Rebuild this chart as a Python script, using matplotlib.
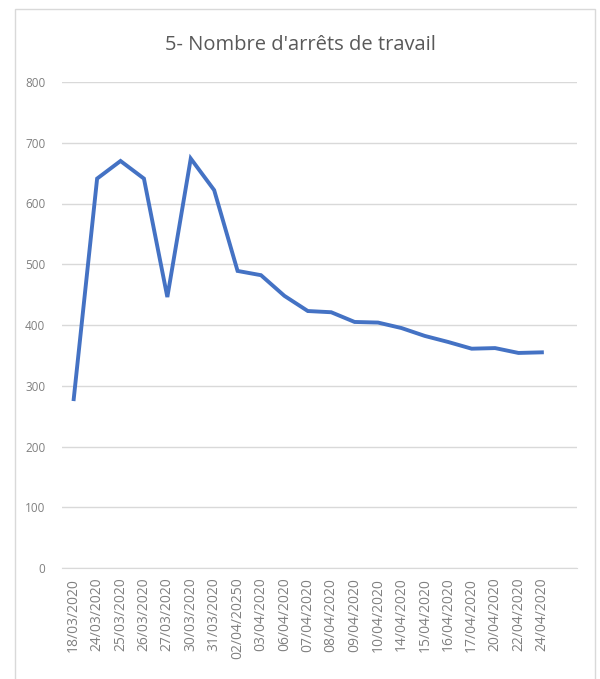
import matplotlib.pyplot as plt
from matplotlib.patches import Rectangle

# data
dates = ['18/03/2020', '24/03/2020', '25/03/2020', '26/03/2020', '27/03/2020',
         '30/03/2020', '31/03/2020', '02/04/20250', '03/04/2020', '06/04/2020',
         '07/04/2020', '08/04/2020', '09/04/2020', '10/04/2020', '14/04/2020',
         '15/04/2020', '16/04/2020', '17/04/2020', '20/04/2020', '22/04/2020',
         '24/04/2020']
arrets = [278, 641, 670, 641, 446, 674, 622, 489, 482, 448, 423, 421, 405, 404,
          395, 382, 372, 361, 362, 354, 355]
yticks = [0, 100, 200, 300, 400, 500, 600, 700, 800]

plt.rcParams['font.family'] = ['Open Sans', 'DejaVu Sans']

fig = plt.figure(figsize=(6, 6.79), dpi=100)
# outer chart border
fig.patches.append(Rectangle((15 / 600, -0.01), 580 / 600, 1 - 9 / 679 + 0.01,
                             transform=fig.transFigure, fill=False,
                             edgecolor='#d9d9d9', linewidth=1))

ax = fig.add_axes([62 / 600, 1 - 568 / 679, (577 - 62) / 600, (568 - 82) / 679])

x = list(range(len(dates)))
ax.plot(x, arrets, color='#4472C4', linewidth=2.8, solid_joinstyle='miter')

ax.set_ylim(0, 800)
ax.set_xlim(-0.5, len(dates) + 0.5)
ax.set_yticks(yticks)
ax.set_yticklabels([str(v) for v in yticks], fontsize=8.5, color='#808080')
ax.set_xticks(x)
ax.set_xticklabels(dates, rotation=90, fontsize=10, color='#808080')
ax.tick_params(axis='both', length=0, pad=12)
ax.tick_params(axis='x', pad=7)

ax.grid(axis='y', color='#d9d9d9', linewidth=1)
ax.set_axisbelow(True)
for side in ['top', 'right', 'left']:
    ax.spines[side].set_visible(False)
ax.spines['bottom'].set_color('#d9d9d9')

fig.text(0.5, 1 - 45 / 679, "5- Nombre d'arrêts de travail", ha='center',
         va='center', fontsize=14.5, color='#595959')

fig.savefig('out.png', dpi=100)
